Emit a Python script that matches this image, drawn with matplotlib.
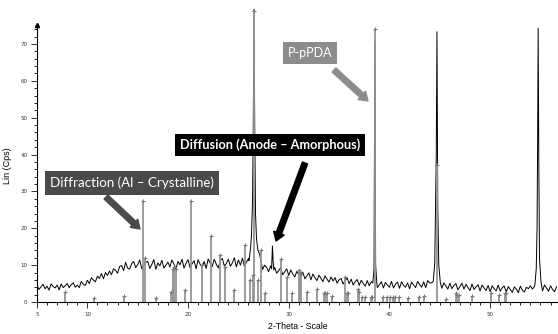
import numpy as np
import matplotlib
matplotlib.use("Agg")
import matplotlib.pyplot as plt

# measured pattern, 0.2 deg scan grid from 5.0 to 56.6
scan_theta = np.round(np.arange(5.0, 56.61, 0.2), 2)
scan_counts = [
    4.5, 3.4, 4.1, 4.8, 3.6, 4.3, 3.2, 4.9, 4.2, 3.8, 4.6, 3.3, 4.9, 3.9, 4.4, 5.0,
    3.9, 4.7, 5.2, 4.0, 4.6, 3.9, 5.6, 4.8, 4.5, 5.9,
    5.0, 6.6, 5.9, 5.5, 7.0, 6.4, 7.7, 6.3, 8.0, 7.2,
    8.4, 7.4, 9.0, 8.6, 7.8, 9.6, 9.9, 8.5, 10.8, 9.2,
    8.9, 10.4, 11.0, 9.3, 10.1, 11.4, 9.0, 9.8, 10.8, 11.0,
    9.1, 10.2, 11.5, 8.9, 10.6, 9.8, 11.3, 9.2, 10.0, 10.8,
    9.5, 11.4, 10.3, 9.0, 11.0, 10.1, 11.6, 9.2, 10.5, 11.5,
    9.3, 10.4, 11.2, 9.0, 11.5, 10.2, 9.6, 11.0, 9.1, 11.7,
    10.5, 9.6, 11.6, 10.3, 9.2, 11.3, 11.8, 9.8, 10.4, 11.6,
    9.7, 10.6, 12.0, 9.5, 11.4, 10.0, 11.9, 9.6, 10.8, 11.8,
    14.0, 30.0, 60.0, 20.0, 13.5, 10.5, 8.8, 10.0, 9.4, 8.2,
    9.8, 15.2, 9.4, 7.8, 8.5, 9.3, 7.4, 8.2, 9.0, 7.2,
    8.7, 7.6, 6.8, 8.3, 7.4, 6.6, 8.1, 6.3, 7.1, 7.9,
    6.0, 7.6, 6.6, 5.8, 7.3, 6.4, 5.5, 7.1, 6.2, 5.4,
    6.8, 5.7, 6.6, 5.1, 6.0, 6.4, 4.9, 5.8, 6.5, 5.0,
    6.2, 4.6, 5.5, 6.1, 4.5, 5.9, 5.0, 4.3, 5.8, 4.4,
    5.5, 40.0, 5.4, 3.9, 4.7, 5.5, 3.8, 5.3, 4.6, 4.0,
    5.6, 3.8, 4.8, 5.4, 3.7, 5.5, 4.5, 4.0, 5.2, 3.6,
    5.4, 4.6, 3.9, 5.6, 4.7, 4.0, 5.5, 3.9, 5.8, 5.2,
    5.2, 8.0, 60.0, 8.0, 5.0, 3.7, 5.2, 4.4, 3.5, 5.1,
    3.6, 4.5, 5.0, 3.3, 4.2, 5.1, 3.5, 4.8, 3.9, 3.1,
    4.9, 3.4, 4.1, 4.7, 3.0, 4.6, 3.8, 3.1, 4.5, 2.8,
    4.4, 3.6, 3.0, 4.6, 2.9, 3.9, 4.3, 2.7, 4.2, 3.4,
    2.6, 4.1, 3.5, 2.5, 4.3, 3.2, 2.7, 4.0, 3.6, 4.4,
    3.5, 4.2, 60.0, 6.0, 4.3, 3.0, 4.6, 3.8, 2.9, 4.4,
    3.4, 2.8, 4.2,
]

# sharp reflections, sampled finer
peak_theta = [
    [26.05, 26.2, 26.3, 26.4, 26.47, 26.55, 26.62, 26.7, 26.8, 26.95, 27.1, 27.25],
    [28.3, 28.38, 28.45, 28.52],
    [38.35, 38.47, 38.55, 38.63, 38.75],
    [44.35, 44.5, 44.6, 44.65, 44.72, 44.8, 44.9, 45.05],
    [54.45, 54.58, 54.66, 54.72, 54.77, 54.83, 54.9, 55.05],
]
peak_counts = [
    [11.2, 14.5, 18, 27, 45, 79.4, 48, 24, 17, 14, 13, 11],
    [9.0, 15.2, 11, 8.7],
    [5.2, 9, 70.6, 10, 5.0],
    [5.6, 10.5, 30, 40, 73.3, 26, 10, 5.4],
    [4.8, 9, 20, 45, 74.3, 40, 12, 5.5],
]

# reference card sticks
stick_theta = [7.8, 10.7, 13.6, 15.55, 15.7, 16.8, 18.35, 18.5, 18.65, 18.85, 19.65,
               20.25, 21.4, 22.3, 23.2, 23.7, 24.6, 25.7, 26.2, 26.45, 26.55, 26.9,
               27.25, 27.6, 29.25, 29.8, 30.35, 31.0, 31.15, 31.25, 31.85, 32.8,
               33.5, 33.65, 33.8, 34.3, 35.6, 35.75, 35.85, 36.9, 37.0, 37.3, 37.6,
               38.15, 38.25, 38.55, 39.4, 39.8, 40.05, 40.35, 40.6, 40.95, 41.8,
               42.9, 43.4, 44.7, 45.6, 46.6, 46.75, 46.9, 48.2, 50.1, 50.9, 51.5, 51.6]
stick_height = [2.8, 1.2, 1.7, 27.4, 12.0, 1.2, 2.8, 9.0, 9.5, 9.0, 3.3,
                27.4, 10.0, 18.0, 12.75, 9.6, 3.3, 15.5, 6.0, 7.3, 79.0, 6.0,
                14.1, 2.4, 11.6, 6.9, 2.5, 8.7, 7.9, 7.9, 2.6, 3.4,
                2.5, 2.5, 2.5, 1.6, 6.9, 2.4, 2.4, 3.4, 2.6, 1.3, 1.3,
                1.3, 1.3, 74.0, 1.3, 1.3, 1.3, 1.3, 1.3, 1.3, 1.2,
                1.3, 1.6, 37.2, 0.8, 2.5, 2.0, 2.0, 1.6, 2.5, 2.0, 2.5, 2.5]

x_ticks = [5, 10, 20, 30, 40, 50]
y_ticks = [0, 10, 20, 30, 40, 50, 60, 70]

# merge scan and peaks
th = np.array(scan_theta)
ct = np.array(scan_counts, dtype=float)
keep = np.ones(len(th), bool)
for pt in peak_theta:
    keep &= ~((th >= min(pt)) & (th <= max(pt)))
all_th = np.concatenate([th[keep]] + [np.array(p) for p in peak_theta])
all_ct = np.concatenate([ct[keep]] + [np.array(p, float) for p in peak_counts])
order = np.argsort(all_th)
all_th, all_ct = all_th[order], all_ct[order]

W, H = 558, 334
fig = plt.figure(figsize=(W / 100, H / 100), dpi=100)
ax = fig.add_axes([37 / W, 32 / H, 1 - 37 / W, 302 / H])
ax.set_xlim(5, 56.74)
ax.set_ylim(0, 81.9)

ax.plot(all_th, all_ct, color='black', lw=0.7, zorder=2)
ax.vlines(stick_theta, 0, stick_height, color='#959595', lw=1.3, zorder=3)
ax.plot(stick_theta, stick_height, ls='none', marker='+', ms=3, mew=0.8,
        color='#7a7a7a', zorder=3)

for s in ['top', 'right']:
    ax.spines[s].set_visible(False)
ax.spines['left'].set_bounds(0, 75)
ax.spines['left'].set_linewidth(0.8)
ax.spines['bottom'].set_linewidth(0.8)
ax.plot([5], [75], marker='^', ms=3, color='black', clip_on=False, zorder=4)

ax.set_xticks(x_ticks)
ax.set_xticks(np.arange(5, 57, 1), minor=True)
ax.set_yticks(y_ticks)
ax.set_yticks(np.arange(0, 75, 2), minor=True)
ax.tick_params(labelsize=4, length=4, width=0.7, pad=3, colors='#333333')
ax.tick_params(which='minor', length=2, width=0.6)
ax.set_xlabel('2-Theta - Scale', fontsize=6.3, family='Liberation Sans')
ax.set_ylabel('Lin (Cps)', fontsize=6.5, family='Liberation Sans')
ax.xaxis.set_label_coords(0.5, -0.066)
ax.yaxis.set_label_coords(-0.048, 0.45)


def px(x, y):
    return (x, H - y)


box_font = 'Lato'
ax.text(*px(132, 183), 'Diffraction (Al \u2013 Crystalline)', transform=None,
        ha='center', va='center', color='white', fontsize=9.6, family=box_font,
        bbox=dict(boxstyle='square,pad=0.4', fc='#4a4a4a', ec='none'))
ax.text(*px(270, 145), 'Diffusion (Anode \u2013 Amorphous)', transform=None,
        ha='center', va='center', color='white', fontsize=9.2, family=box_font,
        fontweight='bold', bbox=dict(boxstyle='square,pad=0.4', fc='black', ec='none'))
ax.text(*px(310, 53), 'P-pPDA', transform=None,
        ha='center', va='center', color='white', fontsize=9, family=box_font,
        bbox=dict(boxstyle='square,pad=0.4', fc='#8c8c8c', ec='none'))

arrows = [((106, 197), (140, 229), '#4a4a4a'),
          ((305, 163), (276, 241), 'black'),
          ((334, 70), (368, 101), '#8c8c8c')]
for (x0, y0), (x1, y1), c in arrows:
    ax.annotate('', xy=px(x1, y1), xytext=px(x0, y0), xycoords='figure pixels',
                textcoords='figure pixels',
                arrowprops=dict(arrowstyle='simple,head_length=6,head_width=8,tail_width=4',
                                mutation_scale=1, color=c, shrinkA=0, shrinkB=0))

fig.savefig('out.png', dpi=100)
